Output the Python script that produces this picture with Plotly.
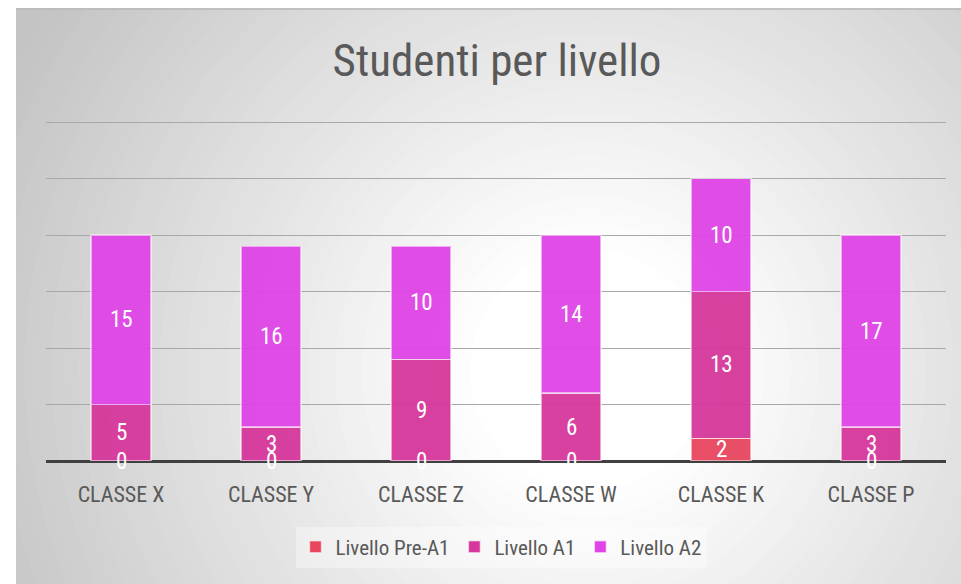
import plotly.graph_objects as go

CATEGORIES = ['CLASSE X', 'CLASSE Y', 'CLASSE Z', 'CLASSE W', 'CLASSE K', 'CLASSE P']
SERIES_NAMES = ['Livello Pre-A1', 'Livello A1', 'Livello A2']
PRE_A1 = [0, 0, 0, 0, 2, 0]
A1 = [5, 3, 9, 6, 13, 3]
A2 = [15, 16, 10, 14, 10, 17]

COLORS = ['#e8465f', '#d6379a', '#df44e6']
FONT = "'Roboto Condensed', 'Liberation Sans Narrow', 'DejaVu Sans Condensed', 'Arial Narrow', sans-serif"

# plot area at screen x 46..946, y 119..461 (value 30 lands at y=122)
FIG_W, FIG_H = 961, 584
L, R, T, B = 46, 15, 119, 123
W, H = FIG_W - L - R, FIG_H - T - B
Y_TOP = H / 11.3  # 11.3 px per student


def px_x(x):
    # screen pixel -> paper coordinate
    return (x - L) / W


def px_y(y):
    return (FIG_H - B - y) / H


def background_shapes():
    """Radial grey->white gradient made of stacked circles, then white margins."""
    shapes = [dict(type='rect', xref='paper', yref='paper', layer='below',
                   x0=px_x(0), x1=px_x(970), y0=px_y(600), y1=px_y(0),
                   fillcolor='rgb(196,196,196)', line=dict(width=0))]
    cx, cy = 590, 370
    steps = 40
    r_max, r_min = 660, 120
    for i in range(steps + 1):
        t = i / steps
        r = r_max - (r_max - r_min) * t
        g = int(196 + (255 - 196) * t)
        shapes.append(dict(
            type='circle', xref='paper', yref='paper', layer='below',
            x0=px_x(cx - r), x1=px_x(cx + r), y0=px_y(cy + r), y1=px_y(cy - r),
            fillcolor=f'rgb({g},{g},{g})', line=dict(width=0),
        ))
    # white strips outside the chart box
    shapes.append(dict(type='rect', xref='paper', yref='paper', layer='below',
                       x0=px_x(-10), x1=px_x(16), y0=px_y(600), y1=px_y(-10),
                       fillcolor='white', line=dict(width=0)))
    shapes.append(dict(type='rect', xref='paper', yref='paper', layer='below',
                       x0=px_x(-10), x1=px_x(970), y0=px_y(8), y1=px_y(-10),
                       fillcolor='white', line=dict(width=0)))
    shapes.append(dict(type='line', xref='paper', yref='paper', layer='below',
                       x0=px_x(16), x1=px_x(961), y0=px_y(9), y1=px_y(9),
                       line=dict(color='#b8b8b8', width=1.5)))
    return shapes


fig = go.Figure()
for name, vals, col in zip(SERIES_NAMES, [PRE_A1, A1, A2], COLORS):
    fig.add_trace(go.Bar(
        x=CATEGORIES, y=vals, name=name,
        marker=dict(color=col, opacity=0.95,
                    line=dict(color='rgba(255,255,255,0.55)', width=1.5)),
        hoverinfo='x+y+name',
    ))

# data labels at segment centres (zeros sit on the baseline)
annotations = []
for i, cat in enumerate(CATEGORIES):
    base = 0
    for vals in [PRE_A1, A1, A2]:
        v = vals[i]
        annotations.append(dict(
            x=cat, y=base + v / 2, text=str(v), showarrow=False,
            font=dict(family=FONT, size=23, color='white'),
            xanchor='center', yanchor='middle',
        ))
        base += v

fig.update_layout(
    width=FIG_W, height=FIG_H,
    barmode='stack', bargap=0.6,
    paper_bgcolor='white',
    plot_bgcolor='rgba(0,0,0,0)',
    margin=dict(l=L, r=R, t=T, b=B),
    font=dict(family=FONT, color='#595959'),
    title=dict(
        text='Studenti per livello',
        x=497 / FIG_W, xanchor='center',
        y=1 - 60 / FIG_H, yanchor='middle', yref='container',
        font=dict(family=FONT, size=45, color='#595959'),
    ),
    xaxis=dict(
        showgrid=False, zeroline=False, showline=False,
        ticks='outside', ticklen=14, tickcolor='rgba(0,0,0,0)',
        tickfont=dict(family=FONT, size=22, color='#595959'),
    ),
    yaxis=dict(
        range=[0, Y_TOP], dtick=5, showticklabels=False,
        showgrid=True, gridcolor='#a8a8a8', gridwidth=1,
        zeroline=True, zerolinecolor='#404040', zerolinewidth=3,
    ),
    legend=dict(
        orientation='h', x=px_x(501), xanchor='center', y=px_y(547), yanchor='middle',
        bgcolor='rgba(255,255,255,0.35)',
        font=dict(family=FONT, size=21, color='#595959'),
        itemwidth=30, traceorder='normal',
    ),
    annotations=annotations,
    shapes=background_shapes(),
)

# drop the default body margin so the 961x584 figure fills the window
fig.write_html('out.html', config={'displayModeBar': False},
               post_script="document.body.style.margin='0';")
